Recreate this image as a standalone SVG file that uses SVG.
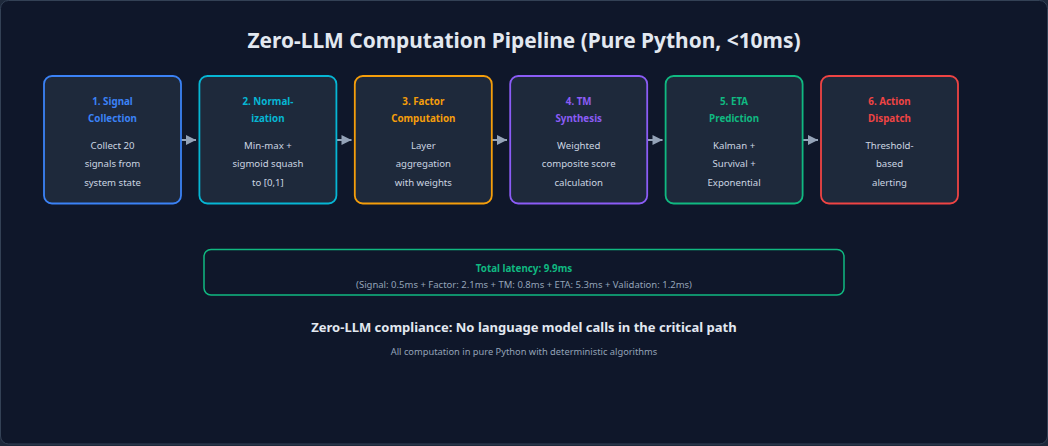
<svg xmlns="http://www.w3.org/2000/svg" width="1048" height="446" viewBox="0 0 1048 446">
<defs>
<marker id="arr" viewBox="0 0 10 10" refX="10" refY="5" markerWidth="11" markerHeight="10" markerUnits="userSpaceOnUse" orient="auto">
<path d="M0,0 L10,5 L0,10 Z" fill="#94a3b8"/>
</marker>
</defs>
<style>
text{font-family:"Noto Sans","Open Sans","Liberation Sans",sans-serif;text-anchor:middle}
.box{fill:#1e293b;stroke-width:1.8}
.t{font-size:9.8px;font-weight:700}
.b{font-size:9.6px;fill:#cbd5e1}
.conn{stroke:#94a3b8;stroke-width:2;fill:none}
</style>
<rect x="0" y="0" width="1048" height="446" fill="#1e293b"/>
<rect x="0.5" y="0.5" width="1047" height="443.5" rx="8" fill="#0f172a" stroke="#334155" stroke-width="1"/>
<text x="524" y="48" font-size="20.9" font-weight="700" fill="#e2e8f0">Zero-LLM Computation Pipeline (Pure Python, &lt;10ms)</text>
<g id="connectors">
<line class="conn" x1="181" y1="140" x2="196" y2="140" marker-end="url(#arr)"/>
<line class="conn" x1="336.5" y1="140" x2="351.5" y2="140" marker-end="url(#arr)"/>
<line class="conn" x1="492" y1="140" x2="507" y2="140" marker-end="url(#arr)"/>
<line class="conn" x1="647.5" y1="140" x2="662.5" y2="140" marker-end="url(#arr)"/>
<line class="conn" x1="803" y1="140" x2="818" y2="140" marker-end="url(#arr)"/>
</g>
<g id="node1">
<rect class="box" x="44" y="76" width="137" height="127.5" rx="8" stroke="#3b82f6"/>
<text class="t" x="112.5" y="105" fill="#3b82f6">1. Signal</text>
<text class="t" x="112.5" y="122" fill="#3b82f6">Collection</text>
<text class="b" x="112.5" y="149">Collect 20</text>
<text class="b" x="112.5" y="167">signals from</text>
<text class="b" x="112.5" y="186">system state</text>
</g>
<g id="node2">
<rect class="box" x="199.4" y="76" width="137" height="127.5" rx="8" stroke="#06b6d4"/>
<text class="t" x="267.9" y="105" fill="#06b6d4">2. Normal-</text>
<text class="t" x="267.9" y="122" fill="#06b6d4">ization</text>
<text class="b" x="267.9" y="149">Min-max +</text>
<text class="b" x="267.9" y="167">sigmoid squash</text>
<text class="b" x="267.9" y="186">to [0,1]</text>
</g>
<g id="node3">
<rect class="box" x="354.8" y="76" width="137" height="127.5" rx="8" stroke="#f59e0b"/>
<text class="t" x="423.3" y="105" fill="#f59e0b">3. Factor</text>
<text class="t" x="423.3" y="122" fill="#f59e0b">Computation</text>
<text class="b" x="423.3" y="149">Layer</text>
<text class="b" x="423.3" y="167">aggregation</text>
<text class="b" x="423.3" y="186">with weights</text>
</g>
<g id="node4">
<rect class="box" x="510.2" y="76" width="137" height="127.5" rx="8" stroke="#8b5cf6"/>
<text class="t" x="578.7" y="105" fill="#8b5cf6">4. TM</text>
<text class="t" x="578.7" y="122" fill="#8b5cf6">Synthesis</text>
<text class="b" x="578.7" y="149">Weighted</text>
<text class="b" x="578.7" y="167">composite score</text>
<text class="b" x="578.7" y="186">calculation</text>
</g>
<g id="node5">
<rect class="box" x="665.6" y="76" width="137" height="127.5" rx="8" stroke="#10b981"/>
<text class="t" x="734.1" y="105" fill="#10b981">5. ETA</text>
<text class="t" x="734.1" y="122" fill="#10b981">Prediction</text>
<text class="b" x="734.1" y="149">Kalman +</text>
<text class="b" x="734.1" y="167">Survival +</text>
<text class="b" x="734.1" y="186">Exponential</text>
</g>
<g id="node6">
<rect class="box" x="821" y="76" width="137" height="127.5" rx="8" stroke="#ef4444"/>
<text class="t" x="889.5" y="105" fill="#ef4444">6. Action</text>
<text class="t" x="889.5" y="122" fill="#ef4444">Dispatch</text>
<text class="b" x="889.5" y="149">Threshold-</text>
<text class="b" x="889.5" y="167">based</text>
<text class="b" x="889.5" y="186">alerting</text>
</g>
<g id="latency">
<rect x="204" y="249.5" width="640" height="45.5" rx="7" fill="none" stroke="#10b981" stroke-width="1.5"/>
<text class="t" x="524" y="271.5" fill="#10b981">Total latency: 9.9ms</text>
<text x="524" y="288" font-size="9.5" fill="#94a3b8">(Signal: 0.5ms + Factor: 2.1ms + TM: 0.8ms + ETA: 5.3ms + Validation: 1.2ms)</text>
</g>
<text x="524" y="332" font-size="13" font-weight="700" fill="#e2e8f0">Zero-LLM compliance: No language model calls in the critical path</text>
<text x="524" y="355" font-size="9.3" fill="#94a3b8">All computation in pure Python with deterministic algorithms</text>
</svg>
